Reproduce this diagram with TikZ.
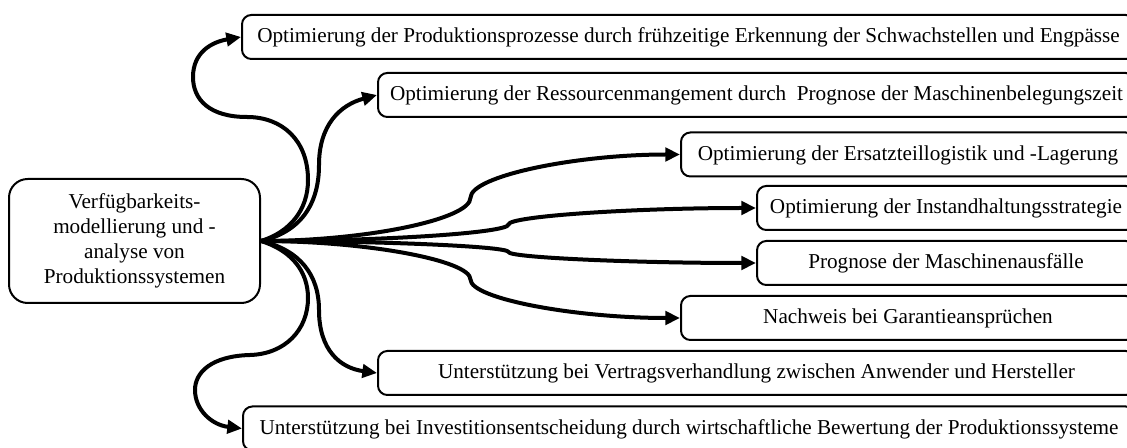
\documentclass[tikz,border=0pt]{standalone}
\usepackage{fontspec}
\setmainfont{Liberation Serif}
\usetikzlibrary{arrows.meta,calc}

\tikzset{
  lbl/.style={font=\fontsize{15.9}{18.8}\selectfont},
  goal/.style={lbl, draw, line width=1.5pt, rounded corners=7pt,
    minimum height=33pt, inner sep=0pt, text depth=.25em},
  hub/.style={lbl, draw, line width=1.5pt, rounded corners=14pt,
    align=center, inner sep=0pt},
  link/.style={line width=3pt, -{Triangle[length=11pt,width=10pt]}},
  % two half-curves: horizontal at the ends, vertical at the middle
  sbend/.style={to path={let \p1=(\tikztostart), \p2=(\tikztotarget) in
    .. controls ({(3*\x1+\x2)/4}, \y1) and ({(\x1+\x2)/2}, {(3*\y1+\y2)/4})
    .. ({(\x1+\x2)/2}, {(\y1+\y2)/2})
    .. controls ({(\x1+\x2)/2}, {(\y1+3*\y2)/4}) and ({(\x1+3*\x2)/4}, \y2)
    .. (\tikztotarget)}}
}

\begin{document}
\begin{tikzpicture}[x=0.75pt, y=-0.75pt]
  \useasboundingbox (0,0) rectangle (1127,448);
  \clip (0,0) rectangle (1127,448);

  % source node
  \node[hub, minimum width=251*0.75pt, minimum height=124*0.75pt]
    (src) at (134.5,241)
    {Verfügbarkeits-\\modellierung und -\\analyse von\\Produktionssystemen};

  % target boxes (they run past the right edge)
  \node[goal, minimum width=893*0.75pt] (b1) at (688.5,37)
    {Optimierung der Produktionsprozesse durch frühzeitige Erkennung der Schwachstellen und Engpässe};
  \node[goal, minimum width=757*0.75pt] (b2) at (756.5,95)
    {Optimierung der Ressourcenmangement durch\ \ Prognose der Maschinenbelegungszeit};
  \node[goal, minimum width=454*0.75pt] (b3) at (908,154.5)
    {Optimierung der Ersatzteillogistik und -Lagerung};
  \node[goal, minimum width=378*0.75pt] (b4) at (946,208)
    {Optimierung der Instandhaltungsstrategie};
  \node[goal, minimum width=378*0.75pt] (b5) at (946,263)
    {Prognose der Maschinenausfälle};
  \node[goal, minimum width=454*0.75pt] (b6) at (908,318)
    {Nachweis bei Garantieansprüchen};
  \node[goal, minimum width=757*0.75pt] (b7) at (756.5,373)
    {Unterstützung bei Vertragsverhandlung zwischen Anwender und Hersteller};
  \node[goal, minimum width=892*0.75pt] (b8) at (689,428.5)
    {Unterstützung bei Investitionsentscheidung durch wirtschaftliche Bewertung der Produktionssysteme};

  % connectors to the right
  \draw[link] (src.east) to[sbend] (b3.west);
  \draw[link] (src.east) to[sbend] (b4.west);
  \draw[link] (src.east) to[sbend] (b5.west);
  \draw[link] (src.east) to[sbend] (b6.west);

  % connectors looping upwards
  \draw[link] (src.east) .. controls (290,232) and (308,210) .. (308,180)
    .. controls (308,140) and (282,117) .. (247,117)
    .. controls (210,117) and (193,100) .. (193,77)
    .. controls (193,52) and (212,42) .. (b1.west);
  \draw[link] (src.east) .. controls (300,232) and (319,205) .. (319,165)
    .. controls (319,125) and (340,105) .. (b2.west);

  % connectors looping downwards
  \draw[link] (src.east) .. controls (290,250) and (308,270) .. (308,298)
    .. controls (308,330) and (285,354) .. (250,355)
    .. controls (212,356) and (195,372) .. (195,390)
    .. controls (195,410) and (212,425) .. (b8.west);
  \draw[link] (src.east) .. controls (300,250) and (319,275) .. (319,310)
    .. controls (319,350) and (340,368) .. (b7.west);
\end{tikzpicture}
\end{document}
